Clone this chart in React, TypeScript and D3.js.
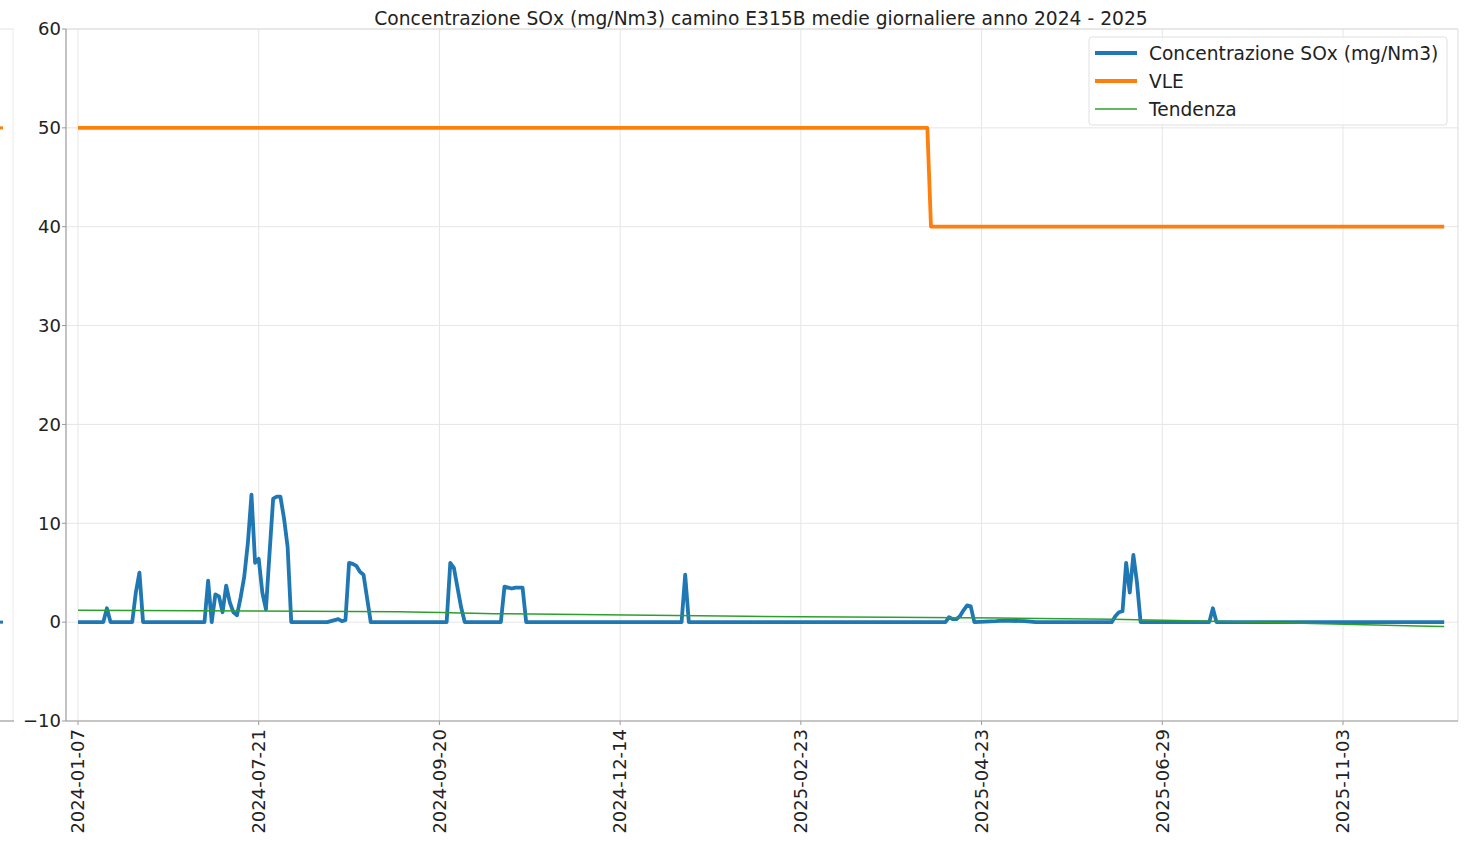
import React from "react";
import * as d3 from "d3";

// x axis is index based (one step per sample); labels at every 50th sample
const tickIdx = [0, 50, 100, 150, 200, 250, 300, 350];
const tickLabels = [
  "2024-01-07",
  "2024-07-21",
  "2024-09-20",
  "2024-12-14",
  "2025-02-23",
  "2025-04-23",
  "2025-06-29",
  "2025-11-03",
];

// SOx concentration breakpoints (sample index, value)
const soxIdx = [
  0, 7, 8, 9, 15, 16, 17, 18, 35, 36, 37, 38, 39, 40, 41, 42, 43, 44, 45, 46, 47, 48, 49, 50, 51, 52, 53, 54, 55, 56, 57, 58, 59,
  69, 70, 72, 73, 74, 75, 76, 77, 78, 79, 80, 81,
  102, 103, 104, 105, 106, 107,
  117, 118, 119, 120, 121, 122, 123, 124,
  167, 168, 169,
  240, 241, 242, 243, 244, 245, 246, 247, 248,
  254, 256, 262, 265,
  286, 287, 288, 289, 290, 291, 292, 293, 294,
  313, 314, 315, 378,
];
const soxVal = [
  0, 0, 1.4, 0, 0, 3.0, 5.0, 0, 0, 4.2, 0, 2.8, 2.6, 1.0, 3.7, 2.0, 1.0, 0.7, 2.5, 4.6, 8.0, 12.9, 6.0, 6.4, 3.0, 1.3, 7.0, 12.5, 12.7, 12.7, 10.5, 7.6, 0,
  0, 0.1, 0.3, 0.1, 0.2, 6.0, 5.9, 5.7, 5.1, 4.8, 2.4, 0,
  0, 6.0, 5.5, 3.5, 1.5, 0,
  0, 3.6, 3.5, 3.4, 3.5, 3.5, 3.5, 0,
  0, 4.8, 0,
  0, 0.5, 0.3, 0.3, 0.6, 1.2, 1.7, 1.6, 0,
  0.1, 0.15, 0.1, 0,
  0, 0.6, 1.0, 1.1, 6.0, 3.0, 6.8, 4.0, 0,
  0, 1.4, 0, 0,
];

// VLE limit
const vleIdx = [0, 235, 236, 378];
const vleVal = [50, 50, 40, 40];

// Trend
const trendIdx = [0, 89, 117, 200, 255, 286, 333, 378];
const trendVal = [1.2, 1.05, 0.85, 0.55, 0.42, 0.3, -0.05, -0.45];

const yTicks = [-10, 0, 10, 20, 30, 40, 50, 60];

const W = 1468;
const H = 843;
const M = { left: 66, right: 1458, top: 29, bottom: 721 };
const FONT = "'DejaVu Sans', sans-serif";

export default function App() {
  const x = d3.scaleLinear().domain([0, 350]).range([78, 1343]);
  const y = d3.scaleLinear().domain([-10, 60]).range([M.bottom, M.top]);

  const line = d3
    .line<[number, number]>()
    .x((d) => x(d[0]))
    .y((d) => y(d[1]));

  const sox = soxIdx.map((d, i) => [d, soxVal[i]] as [number, number]);
  const vle = vleIdx.map((d, i) => [d, vleVal[i]] as [number, number]);
  const trend = trendIdx.map((d, i) => [d, trendVal[i]] as [number, number]);
  const trendLine = d3
    .line<[number, number]>()
    .x((d) => x(d[0]))
    .y((d) => y(d[1]))
    .curve(d3.curveMonotoneX);

  const legendItems = [
    { label: "Concentrazione SOx (mg/Nm3)", color: "#1f77b4", w: 3.8 },
    { label: "VLE", color: "#ff7f0e", w: 3.8 },
    { label: "Tendenza", color: "#2ca02c", w: 1.5 },
  ];

  return (
    <svg
      width={W}
      height={H}
      style={{ position: "absolute", left: 0, top: 0, background: "#fff" }}
      fontFamily={FONT}
    >
      <rect x={0} y={0} width={W} height={H} fill="#fff" />
      {/* remnant of neighbouring chart on the left edge */}
      <line x1={0} x2={14} y1={M.top} y2={M.top} stroke="#e4e4e4" strokeWidth={1} />
      <line x1={13} x2={13} y1={M.top} y2={M.bottom} stroke="#ececec" strokeWidth={1} />
      <line x1={0} x2={14} y1={M.bottom} y2={M.bottom} stroke="#9a9a9a" strokeWidth={1.2} />
      <line x1={0} x2={3} y1={y(50)} y2={y(50)} stroke="#ff7f0e" strokeWidth={3} />
      <line x1={0} x2={3} y1={y(0)} y2={y(0)} stroke="#1f77b4" strokeWidth={3} />

      {/* grid */}
      {yTicks.map((t) => (
        <line key={"gy" + t} x1={M.left} x2={M.right} y1={y(t)} y2={y(t)} stroke="#e6e6e6" strokeWidth={1} />
      ))}
      {tickIdx.map((t) => (
        <line key={"gx" + t} x1={x(t)} x2={x(t)} y1={M.top} y2={M.bottom} stroke="#e6e6e6" strokeWidth={1} />
      ))}

      {/* spines */}
      <line x1={M.left} x2={M.right} y1={M.top} y2={M.top} stroke="#dcdcdc" strokeWidth={1} />
      <line x1={M.right} x2={M.right} y1={M.top} y2={M.bottom} stroke="#dcdcdc" strokeWidth={1} />
      <line x1={M.left} x2={M.left} y1={M.top} y2={M.bottom} stroke="#9a9a9a" strokeWidth={1.2} />
      <line x1={M.left} x2={M.right} y1={M.bottom} y2={M.bottom} stroke="#9a9a9a" strokeWidth={1.2} />

      {/* y ticks */}
      {yTicks.map((t) => (
        <g key={"yt" + t}>
          <line x1={M.left - 4} x2={M.left} y1={y(t)} y2={y(t)} stroke="#9a9a9a" />
          <text x={M.left - 5} y={y(t)} dy="0.35em" textAnchor="end" fontSize={18} fill="#222">
            {t < 0 ? "\u2212" + Math.abs(t) : t}
          </text>
        </g>
      ))}

      {/* x ticks */}
      {tickIdx.map((t, i) => (
        <g key={"xt" + t}>
          <line x1={x(t)} x2={x(t)} y1={M.bottom} y2={M.bottom + 4} stroke="#9a9a9a" />
          <text
            transform={`translate(${x(t)},${M.bottom + 8}) rotate(-90)`}
            textAnchor="end"
            dy="0.35em"
            fontSize={18}
            fill="#222"
          >
            {tickLabels[i]}
          </text>
        </g>
      ))}

      {/* series */}
      <path d={line(vle) || ""} fill="none" stroke="#ff7f0e" strokeWidth={3.8} strokeLinejoin="round" />
      <path d={line(sox) || ""} fill="none" stroke="#1f77b4" strokeWidth={3.8} strokeLinejoin="round" />
      <path d={trendLine(trend) || ""} fill="none" stroke="#2ca02c" strokeWidth={1.5} />

      {/* title */}
      <text x={761} y={18} dy="0.35em" textAnchor="middle" fontSize={18.7} fill="#222">
        Concentrazione SOx (mg/Nm3) camino E315B medie giornaliere anno 2024 - 2025
      </text>

      {/* legend */}
      <rect x={1089} y={37} width={358} height={88} rx={3} fill="#fff" fillOpacity={0.85} stroke="#e0e0e0" />
      {legendItems.map((it, i) => (
        <g key={it.label} transform={`translate(1095,${53 + i * 28})`}>
          <line x1={0} x2={42} y1={0} y2={0} stroke={it.color} strokeWidth={it.w} />
          <text x={54} y={0} dy="0.35em" fontSize={18.6} fill="#222">
            {it.label}
          </text>
        </g>
      ))}
    </svg>
  );
}
